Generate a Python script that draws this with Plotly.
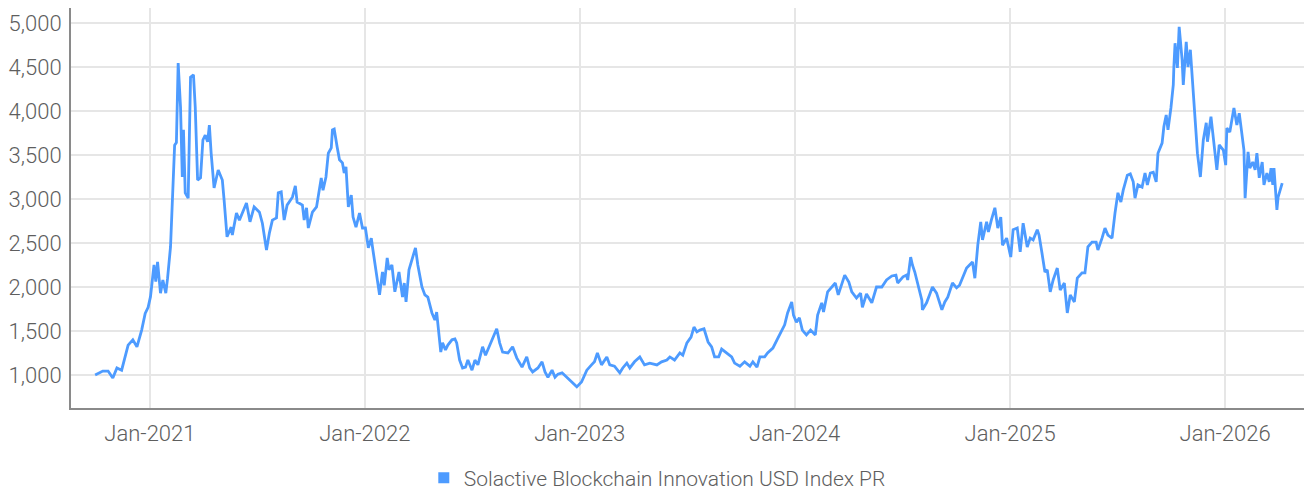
import plotly.graph_objects as go

dates = [
    "2020-09-30","2020-10-13","2020-10-22","2020-10-30","2020-11-06","2020-11-14","2020-11-25","2020-12-03",
    "2020-12-10","2020-12-18","2020-12-24","2020-12-29",
    "2021-01-02","2021-01-08","2021-01-11","2021-01-14","2021-01-19","2021-01-23","2021-01-28","2021-01-31",
    "2021-02-05","2021-02-09","2021-02-12","2021-02-15","2021-02-17","2021-02-18","2021-02-22","2021-02-25",
    "2021-02-27","2021-03-02","2021-03-07","2021-03-11","2021-03-16","2021-03-19","2021-03-23","2021-03-28",
    "2021-04-01","2021-04-05","2021-04-09","2021-04-12","2021-04-15","2021-04-20","2021-04-27","2021-05-04",
    "2021-05-07","2021-05-12","2021-05-19","2021-05-21","2021-05-28","2021-06-02","2021-06-07","2021-06-14",
    "2021-06-20","2021-06-27","2021-07-06","2021-07-11","2021-07-18","2021-07-23","2021-07-28","2021-08-04",
    "2021-08-07","2021-08-12","2021-08-17","2021-08-22","2021-08-31","2021-09-05","2021-09-08","2021-09-17",
    "2021-09-20","2021-09-24","2021-09-27","2021-10-04","2021-10-11","2021-10-14","2021-10-19","2021-10-22",
    "2021-10-27","2021-10-31","2021-11-05","2021-11-07","2021-11-10","2021-11-15","2021-11-19","2021-11-24",
    "2021-11-27","2021-11-30","2021-12-04","2021-12-09","2021-12-12","2021-12-17","2021-12-23","2021-12-28",
    "2022-01-02","2022-01-07","2022-01-12","2022-01-14","2022-01-21","2022-01-26","2022-01-31","2022-02-03",
    "2022-02-08","2022-02-11","2022-02-16","2022-02-21","2022-02-28","2022-03-06","2022-03-09","2022-03-12",
    "2022-03-17","2022-03-23","2022-03-28","2022-04-01","2022-04-08","2022-04-13","2022-04-18","2022-04-25",
    "2022-04-30","2022-05-03","2022-05-10","2022-05-13","2022-05-18","2022-05-22","2022-05-29","2022-06-03",
    "2022-06-06","2022-06-11","2022-06-16","2022-06-21","2022-06-25","2022-07-02","2022-07-07","2022-07-12",
    "2022-07-20","2022-07-25","2022-08-01","2022-08-06","2022-08-13","2022-08-18","2022-08-23","2022-09-01",
    "2022-09-09","2022-09-16","2022-09-25","2022-10-03","2022-10-08","2022-10-13","2022-10-22","2022-10-29",
    "2022-11-03","2022-11-08","2022-11-15","2022-11-20","2022-11-25","2022-12-02","2022-12-10","2022-12-15",
    "2022-12-20","2022-12-27",
    "2023-01-04","2023-01-13","2023-01-21","2023-01-26","2023-01-31","2023-02-07","2023-02-16","2023-02-21",
    "2023-03-01","2023-03-10","2023-03-15","2023-03-22","2023-03-27","2023-04-04","2023-04-13","2023-04-21",
    "2023-04-30","2023-05-12","2023-05-20","2023-05-29","2023-06-03","2023-06-11","2023-06-20","2023-06-25",
    "2023-07-02","2023-07-09","2023-07-14","2023-07-19","2023-07-24","2023-07-31","2023-08-07","2023-08-13",
    "2023-08-18","2023-08-25","2023-08-30","2023-09-08","2023-09-16","2023-09-21","2023-09-30","2023-10-08",
    "2023-10-17","2023-10-22","2023-10-29","2023-11-03","2023-11-11","2023-11-16","2023-11-25","2023-12-02",
    "2023-12-10","2023-12-15","2023-12-20","2023-12-27","2023-12-30",
    "2024-01-04","2024-01-09","2024-01-14","2024-01-21","2024-01-28","2024-02-05","2024-02-09","2024-02-16",
    "2024-02-19","2024-02-26","2024-03-05","2024-03-10","2024-03-15","2024-03-21","2024-03-26","2024-04-02",
    "2024-04-07","2024-04-15","2024-04-22","2024-04-25","2024-05-02","2024-05-11","2024-05-19","2024-05-28",
    "2024-06-05","2024-06-14","2024-06-21","2024-06-24","2024-07-03","2024-07-09","2024-07-11","2024-07-16",
    "2024-07-19","2024-07-23","2024-07-28","2024-08-04","2024-08-05","2024-08-12","2024-08-17","2024-08-22",
    "2024-08-29","2024-09-07","2024-09-12","2024-09-17","2024-09-25","2024-10-02","2024-10-07","2024-10-12",
    "2024-10-19","2024-10-24","2024-10-29","2024-11-02","2024-11-07","2024-11-12","2024-11-15","2024-11-22",
    "2024-11-25","2024-11-30","2024-12-06","2024-12-11","2024-12-16","2024-12-19","2024-12-26",
    "2025-01-02","2025-01-06","2025-01-13","2025-01-18","2025-01-23","2025-01-30","2025-02-04","2025-02-09",
    "2025-02-16","2025-02-19","2025-02-24","2025-03-01","2025-03-05","2025-03-10","2025-03-15","2025-03-22",
    "2025-03-27","2025-04-03","2025-04-08","2025-04-13","2025-04-20","2025-04-25","2025-05-03","2025-05-08",
    "2025-05-13","2025-05-20","2025-05-27","2025-05-30","2025-06-06","2025-06-11","2025-06-16","2025-06-23",
    "2025-06-28","2025-07-03","2025-07-08","2025-07-12","2025-07-19","2025-07-24","2025-07-29","2025-08-01",
    "2025-08-06","2025-08-13","2025-08-18","2025-08-22","2025-08-27","2025-09-01","2025-09-06","2025-09-09",
    "2025-09-16","2025-09-19","2025-09-23","2025-09-26","2025-10-01","2025-10-05","2025-10-06","2025-10-08",
    "2025-10-12","2025-10-15","2025-10-20","2025-10-22","2025-10-27","2025-10-30","2025-11-03","2025-11-08",
    "2025-11-15","2025-11-20","2025-11-25","2025-11-30","2025-12-02","2025-12-08","2025-12-13","2025-12-18",
    "2025-12-22","2025-12-29",
    "2026-01-02","2026-01-04","2026-01-09","2026-01-14","2026-01-16","2026-01-21","2026-01-25","2026-01-28",
    "2026-02-01","2026-02-02","2026-02-04","2026-02-09","2026-02-12","2026-02-17","2026-02-21","2026-02-24",
    "2026-02-28","2026-03-05","2026-03-08","2026-03-13","2026-03-17","2026-03-20","2026-03-23","2026-03-25",
    "2026-03-30","2026-04-01","2026-04-08",
]

index_values = [
    1000,1045,1045,965,1080,1055,1340,1400,
    1320,1510,1700,1770,
    1890,2250,2060,2285,1930,2080,1930,2100,
    2455,3070,3610,3640,4500,4545,4045,3250,
    3785,3070,3010,4385,4410,4045,3215,3240,
    3670,3725,3650,3840,3520,3125,3330,3215,
    2990,2570,2680,2590,2840,2760,2840,2955,
    2740,2910,2850,2725,2420,2615,2760,2785,
    3070,3080,2760,2930,3020,3150,2965,2930,
    2760,2900,2670,2850,2910,3045,3240,3100,
    3250,3520,3580,3785,3795,3590,3445,3410,
    3295,3365,2910,3045,2795,2680,2840,2670,
    2670,2445,2555,2455,2100,1910,2170,2020,
    2330,2195,2250,1945,2170,1885,2045,1830,
    2195,2340,2445,2250,2000,1910,1885,1705,
    1625,1715,1260,1365,1285,1340,1400,1410,
    1365,1170,1080,1090,1170,1055,1170,1115,
    1320,1225,1340,1420,1525,1365,1260,1250,
    1320,1195,1090,1205,1080,1035,1080,1150,
    1035,975,1055,975,1010,1025,975,945,
    920,865,
    920,1055,1115,1150,1250,1115,1205,1115,
    1100,1025,1080,1135,1080,1150,1205,1115,
    1135,1115,1150,1170,1205,1170,1250,1225,
    1365,1430,1545,1490,1510,1525,1375,1320,
    1205,1205,1295,1250,1205,1135,1100,1150,
    1100,1150,1090,1205,1205,1250,1305,1400,
    1510,1570,1705,1830,1680,
    1600,1650,1510,1455,1510,1455,1680,1820,
    1715,1945,2000,2045,1910,2045,2135,2055,
    1945,1875,1930,1770,1920,1820,2000,2000,
    2080,2125,2135,2045,2115,2135,2080,2340,
    2250,2170,2045,1850,1740,1820,1910,2000,
    1930,1740,1830,1885,2045,1990,2020,2100,
    2215,2250,2285,2100,2475,2740,2535,2740,
    2625,2760,2900,2670,2795,2475,2555,
    2340,2650,2670,2400,2725,2455,2555,2535,
    2650,2590,2385,2170,2195,1945,2080,2215,
    1965,2045,1705,1910,1830,2100,2160,2160,
    2455,2510,2510,2420,2555,2670,2590,2555,
    2840,3070,2965,3100,3270,3285,3195,3010,
    3160,3135,3295,3160,3295,3305,3195,3520,
    3635,3820,3955,3785,4035,4295,4500,4770,
    4490,4955,4580,4295,4785,4500,4695,4205,
    3520,3250,3670,3865,3650,3935,3635,3330,
    3615,3555,
    3385,3805,3760,3955,4035,3840,3975,3820,
    3650,3555,3010,3535,3350,3420,3330,3520,
    3240,3420,3160,3295,3195,3350,3160,3350,
    2875,3020,3180,
]

series_name = "Solactive Blockchain Innovation USD Index PR"
y_ticks = [1000, 1500, 2000, 2500, 3000, 3500, 4000, 4500, 5000]
x_ticks = ["2021-01-01", "2022-01-01", "2023-01-01", "2024-01-01", "2025-01-01", "2026-01-01"]
x_tick_labels = ["Jan-2021", "Jan-2022", "Jan-2023", "Jan-2024", "Jan-2025", "Jan-2026"]

LINE = "#4d9bff"
FONT = dict(family="Roboto", size=22, color="#5e5e5e", weight=300)

fig = go.Figure()
fig.add_trace(go.Scatter(
    x=dates, y=index_values, mode="lines", name=series_name,
    line=dict(color=LINE, width=2.8), showlegend=False, legendgroup="s",
))
fig.add_trace(go.Scatter(
    x=[None], y=[None], mode="markers", name=series_name, legendgroup="s",
    marker=dict(symbol="square", size=11, color=LINE), showlegend=True,
))

fig.update_layout(
    width=1304, height=490,
    margin=dict(l=71, r=0, t=8, b=82, autoexpand=False),
    paper_bgcolor="white", plot_bgcolor="white",
    font=FONT,
    legend=dict(orientation="h", xref="container", yref="container",
                x=0.325, y=0.0245, xanchor="left", yanchor="middle",
                font=dict(family="Roboto", size=21, color="#5e5e5e", weight=300),
                itemwidth=30, bgcolor="rgba(0,0,0,0)"),
    xaxis=dict(
        type="date", range=["2020-08-20", "2026-05-15"],
        tickvals=x_ticks, ticktext=x_tick_labels, automargin=False,
        showgrid=True, gridcolor="#e6e6e6", gridwidth=2,
        showline=True, linecolor="#8a8a8a", linewidth=2,
        ticks="", ticklabelstandoff=5, zeroline=False,
    ),
    yaxis=dict(
        range=[625, 5170], tickvals=y_ticks, tickformat=",d", automargin=False,
        showgrid=True, gridcolor="#e6e6e6", gridwidth=2,
        showline=True, linecolor="#8a8a8a", linewidth=2,
        ticks="", ticklabelstandoff=3, zeroline=False,
    ),
)

fig.write_html("out.html", config={"displayModeBar": False},
               post_script="document.body.style.margin='0';")
